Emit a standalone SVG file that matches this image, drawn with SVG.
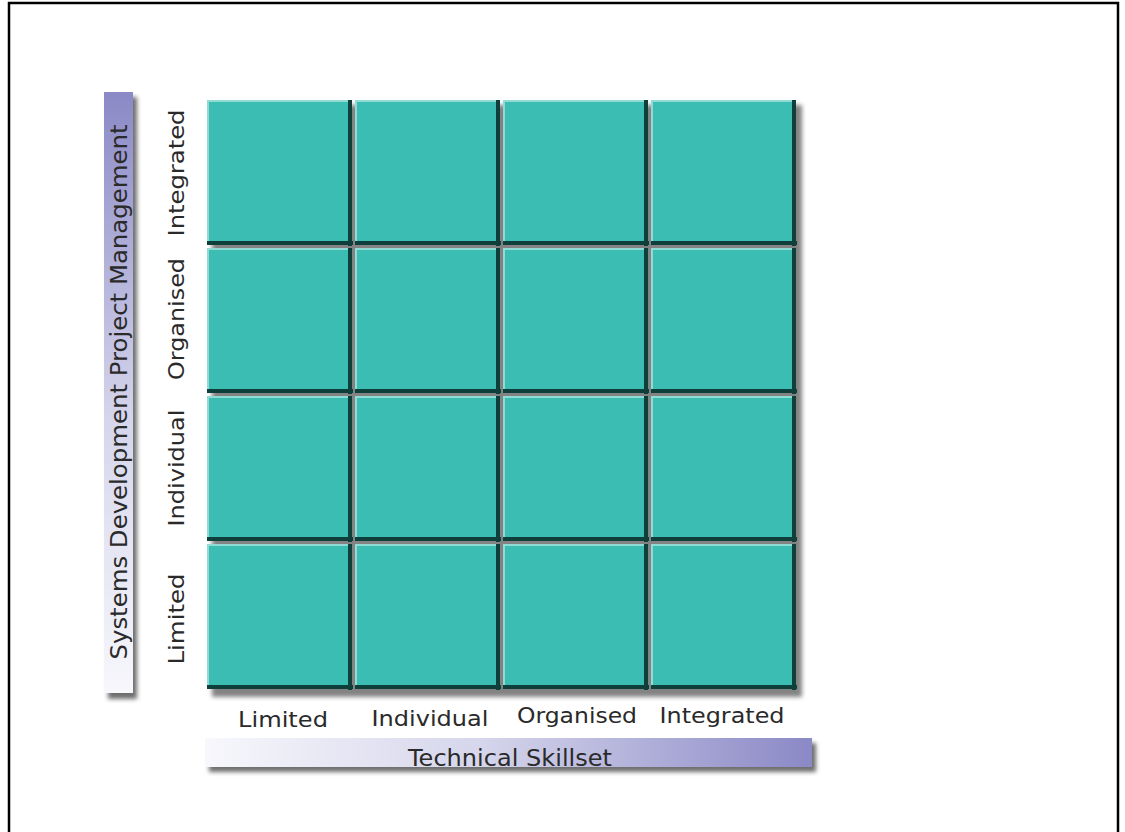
<svg xmlns="http://www.w3.org/2000/svg" xmlns:xlink="http://www.w3.org/1999/xlink" width="1125" height="832" viewBox="0 0 1125 832">
<style>
.lbl{font-family:"DejaVu Sans","Liberation Sans",sans-serif;font-size:22px;fill:#2a2a2a;}
.ttl{font-family:"DejaVu Sans","Liberation Sans",sans-serif;font-size:23px;fill:#2a2a2a;}
.teal{fill:#3bbdb3;}
.dark{fill:#0e3f3b;}
.hi{fill:#8fdcd4;}
</style>
<defs>
<linearGradient id="gv" x1="0" y1="0" x2="0" y2="1">
<stop offset="0" stop-color="#8b89c6"/>
<stop offset="0.55" stop-color="#d6d6ec"/>
<stop offset="1" stop-color="#f7f7fc"/>
</linearGradient>
<linearGradient id="gh" x1="0" y1="0" x2="1" y2="0">
<stop offset="0" stop-color="#f7f7fc"/>
<stop offset="0.45" stop-color="#d6d6ec"/>
<stop offset="1" stop-color="#8b89c6"/>
</linearGradient>
<filter id="blur" x="-20%" y="-20%" width="140%" height="140%"><feGaussianBlur stdDeviation="2"/></filter>
<g id="cell">
<rect x="0" y="0" width="145" height="145" class="teal"/>
<rect x="0" y="0" width="142" height="2" class="hi"/>
<rect x="0" y="0" width="2" height="142" class="hi"/>
<rect x="141" y="0" width="4" height="146" class="dark"/>
<rect x="0" y="141" width="146" height="4" class="dark"/>
</g>
</defs>
<rect x="0" y="0" width="1125" height="832" fill="#ffffff"/>
<rect x="9" y="3" width="1109" height="840" fill="none" stroke="#000" stroke-width="2.5"/>

<g id="grid-shadow">
<rect x="212" y="105" width="590" height="592" fill="#333" opacity="0.6" filter="url(#blur)"/>
</g>

<g id="cell-r1c1"><use xlink:href="#cell" x="207" y="100"/></g>
<g id="cell-r1c2"><use xlink:href="#cell" x="355" y="100"/></g>
<g id="cell-r1c3"><use xlink:href="#cell" x="503" y="100"/></g>
<g id="cell-r1c4"><use xlink:href="#cell" x="651" y="100"/></g>
<g id="cell-r2c1"><use xlink:href="#cell" x="207" y="248"/></g>
<g id="cell-r2c2"><use xlink:href="#cell" x="355" y="248"/></g>
<g id="cell-r2c3"><use xlink:href="#cell" x="503" y="248"/></g>
<g id="cell-r2c4"><use xlink:href="#cell" x="651" y="248"/></g>
<g id="cell-r3c1"><use xlink:href="#cell" x="207" y="396"/></g>
<g id="cell-r3c2"><use xlink:href="#cell" x="355" y="396"/></g>
<g id="cell-r3c3"><use xlink:href="#cell" x="503" y="396"/></g>
<g id="cell-r3c4"><use xlink:href="#cell" x="651" y="396"/></g>
<g id="cell-r4c1"><use xlink:href="#cell" x="207" y="544"/></g>
<g id="cell-r4c2"><use xlink:href="#cell" x="355" y="544"/></g>
<g id="cell-r4c3"><use xlink:href="#cell" x="503" y="544"/></g>
<g id="cell-r4c4"><use xlink:href="#cell" x="651" y="544"/></g>

<g id="connectors"></g>

<g id="y-axis-bar">
<rect x="108" y="97" width="29" height="602" fill="#333" opacity="0.7" filter="url(#blur)"/>
<rect x="104" y="92" width="29" height="601" fill="url(#gv)"/>
<text class="ttl" transform="translate(127,392) rotate(-90)" text-anchor="middle" textLength="535" lengthAdjust="spacingAndGlyphs">Systems Development Project Management</text>
</g>

<g id="x-axis-bar">
<rect x="209" y="743" width="607" height="29" fill="#333" opacity="0.7" filter="url(#blur)"/>
<rect x="205" y="738" width="607" height="29" fill="url(#gh)"/>
<text class="ttl" x="510" y="766" text-anchor="middle" textLength="204" lengthAdjust="spacingAndGlyphs">Technical Skillset</text>
</g>

<g id="y-labels">
<text class="lbl" transform="translate(184,173) rotate(-90)" text-anchor="middle" textLength="127" lengthAdjust="spacingAndGlyphs">Integrated</text>
<text class="lbl" transform="translate(184,319) rotate(-90)" text-anchor="middle" textLength="122" lengthAdjust="spacingAndGlyphs">Organised</text>
<text class="lbl" transform="translate(184,468) rotate(-90)" text-anchor="middle" textLength="117" lengthAdjust="spacingAndGlyphs">Individual</text>
<text class="lbl" transform="translate(184,619) rotate(-90)" text-anchor="middle" textLength="91" lengthAdjust="spacingAndGlyphs">Limited</text>
</g>

<g id="x-labels">
<text class="lbl" x="283" y="727" text-anchor="middle" textLength="90" lengthAdjust="spacingAndGlyphs">Limited</text>
<text class="lbl" x="430" y="726" text-anchor="middle" textLength="117" lengthAdjust="spacingAndGlyphs">Individual</text>
<text class="lbl" x="577" y="723" text-anchor="middle" textLength="120" lengthAdjust="spacingAndGlyphs">Organised</text>
<text class="lbl" x="722" y="723" text-anchor="middle" textLength="125" lengthAdjust="spacingAndGlyphs">Integrated</text>
</g>
</svg>
